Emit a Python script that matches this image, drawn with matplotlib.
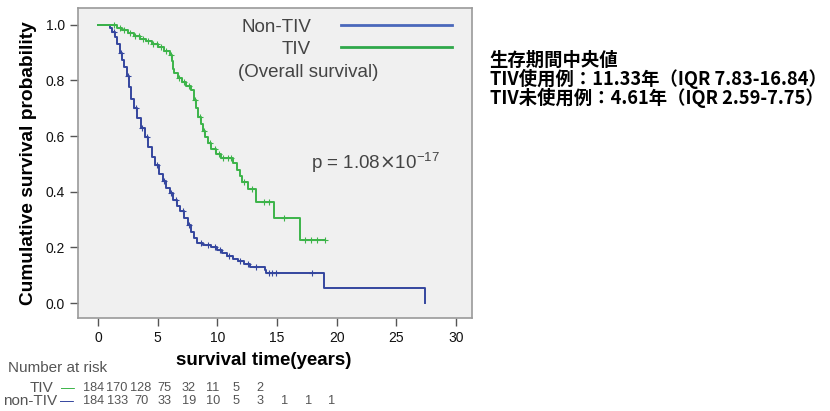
import numpy as np
import matplotlib.pyplot as plt
from matplotlib.lines import Line2D
import matplotlib.transforms as mtransforms

plt.rcParams['font.family'] = ['Liberation Sans', 'Noto Sans CJK JP', 'DejaVu Sans']

# Kaplan-Meier curves (time in years, survival after the drop)
non_tiv_t = [0, 1.0, 1.2, 1.4, 1.6, 1.8, 2.0, 2.2, 2.4, 2.6, 2.8, 3.0, 3.3, 3.6, 3.9, 4.2,
             4.5, 4.8, 5.1, 5.4, 5.7, 6.0, 6.3, 6.6, 6.9, 7.2, 7.5, 7.8, 8.0, 8.3, 8.8,
             9.5, 10.0, 10.4, 10.8, 11.3, 11.7, 12.2, 12.7, 14.0, 14.1, 18.9, 27.4]
non_tiv_s = [1.0, 0.99, 0.975, 0.955, 0.93, 0.90, 0.875, 0.85, 0.815, 0.775, 0.735, 0.70,
             0.665, 0.63, 0.595, 0.56, 0.525, 0.495, 0.465, 0.44, 0.415, 0.395, 0.37, 0.35,
             0.33, 0.305, 0.28, 0.255, 0.235, 0.215, 0.208, 0.20, 0.19, 0.18, 0.17, 0.16,
             0.15, 0.14, 0.13, 0.12, 0.107, 0.053, 0.0]
non_tiv_cens = [1.3, 1.9, 2.5, 3.2, 3.7, 4.1, 4.9, 5.5, 6.1, 6.5, 7.1, 7.6, 8.6, 9.2, 9.8,
                10.2, 11.0, 11.9, 12.6, 13.2, 14.3, 14.6, 14.9, 17.9]

tiv_t = [0, 1.6, 2.0, 2.5, 3.0, 3.5, 4.0, 4.5, 5.0, 5.5, 6.0, 6.2, 6.3, 6.4, 6.7, 7.0, 7.4,
         7.8, 8.0, 8.2, 8.4, 8.6, 8.8, 9.0, 9.2, 9.5, 9.9, 10.3, 11.3, 11.6, 11.9, 12.1,
         12.6, 13.2, 14.7, 16.9, 19.0]
tiv_s = [1.0, 0.99, 0.98, 0.97, 0.96, 0.95, 0.94, 0.93, 0.92, 0.905, 0.89, 0.87, 0.84,
         0.825, 0.81, 0.795, 0.78, 0.765, 0.73, 0.70, 0.67, 0.645, 0.62, 0.595, 0.575,
         0.555, 0.535, 0.52, 0.505, 0.48, 0.455, 0.435, 0.41, 0.365, 0.305, 0.228, 0.228]
tiv_cens = [1.3, 1.8, 2.2, 2.7, 3.1, 3.4, 3.8, 4.2, 4.6, 4.9, 5.3, 5.7, 6.1, 6.8, 7.2, 7.6,
            8.1, 8.5, 8.9, 9.4, 9.8, 10.1, 10.5, 10.9, 11.1, 12.2, 12.9, 13.9, 14.3, 15.6,
            17.3, 17.8, 18.3, 19.0]

# number at risk every 2 years
risk_times = [0, 2, 4, 6, 8, 10, 12, 14, 16, 18, 20]
tiv_risk = [184, 170, 128, 75, 32, 11, 5, 2]
non_tiv_risk = [184, 133, 70, 33, 19, 10, 5, 3, 1, 1, 1]

blue = '#34469e'
green = '#3cb449'


def step_value(t_list, s_list, x):
    i = np.searchsorted(t_list, x, side='right') - 1
    return np.array(s_list)[i]


fig = plt.figure(figsize=(8.3, 4.11), dpi=100)
ax = fig.add_axes([0.094, 0.226, 0.475, 0.755])
ax.set_facecolor('#f0f0f0')

ax.step(non_tiv_t, non_tiv_s, where='post', color=blue, lw=1.4)
ax.step(tiv_t, tiv_s, where='post', color=green, lw=1.4)
ax.plot(non_tiv_cens, step_value(non_tiv_t, non_tiv_s, non_tiv_cens), '+', color=blue,
        ms=5, mew=0.8)
ax.plot(tiv_cens, step_value(tiv_t, tiv_s, tiv_cens), '+', color=green, ms=5, mew=0.8)

ax.set_xlim(-1.68, 31.35)
ax.set_ylim(-0.054, 1.061)
ax.set_xticks(range(0, 31, 5))
ax.set_yticks([0.0, 0.2, 0.4, 0.6, 0.8, 1.0])
ax.set_yticklabels(['0.0', '0.2', '0.4', '0.6', '0.8', '1.0'])
ax.tick_params(direction='out', length=6, width=1, color='#555555', labelsize=10,
               labelcolor='#111111')
for sp in ax.spines.values():
    sp.set_color('#9a9a9a')
    sp.set_linewidth(1.2)

ax.set_ylabel('Cumulative survival probability', fontsize=13.8, fontweight='bold', labelpad=6)
ax.set_xlabel('survival time(years)', fontsize=13.5, fontweight='bold')
ax.xaxis.set_label_coords(0.47, -0.11)

handles = [Line2D([], [], color='#4a68bb', lw=2), Line2D([], [], color='#2fa84a', lw=2)]
leg = ax.legend(handles, ['Non-TIV', 'TIV'], loc='upper right', bbox_to_anchor=(0.972, 0.995),
                markerfirst=False, frameon=False, handlelength=5.9, handletextpad=1.6,
                fontsize=13.5, labelspacing=0.25, borderpad=0)
for txt in leg.get_texts():
    txt.set_color('#444444')
ax.text(0.405, 0.79, '(Overall survival)', transform=ax.transAxes, fontsize=13.5,
        color='#444444', va='center')
ax.text(0.59, 0.5, r'p = 1.08$\times$10$^{\mathregular{-17}}$', transform=ax.transAxes,
        fontsize=13.5, color='#444444', va='center')

# median survival note
fig.text(0.59, 0.876, '生存期間中央値\nTIV使用例：11.33年（IQR 7.83-16.84）\n'
         'TIV未使用例：4.61年（IQR 2.59-7.75）', fontsize=13.2, fontweight='bold',
         family=['Noto Sans CJK JP'], va='top', linespacing=0.92)

# number at risk table
trans = mtransforms.blended_transform_factory(ax.transData, fig.transFigure)
fig.text(0.01, 0.105, 'Number at risk', fontsize=11, color='#555555', va='center')
fig.text(0.036, 0.056, 'TIV', fontsize=11, color='#555555', va='center')
fig.text(0.074, 0.056, '—', fontsize=10, color=green, va='center')
fig.text(0.004, 0.024, 'non-TIV', fontsize=11, color='#555555', va='center')
fig.text(0.072, 0.024, '—', fontsize=10, color=blue, va='center')
for x, n in zip(risk_times, tiv_risk):
    ax.text(x - 0.4, 0.056, str(n), transform=trans, ha='center', va='center',
            fontsize=9.2, color='#555555')
for x, n in zip(risk_times, non_tiv_risk):
    ax.text(x - 0.4, 0.024, str(n), transform=trans, ha='center', va='center',
            fontsize=9.2, color='#555555')

fig.savefig('out.png', dpi=100)
